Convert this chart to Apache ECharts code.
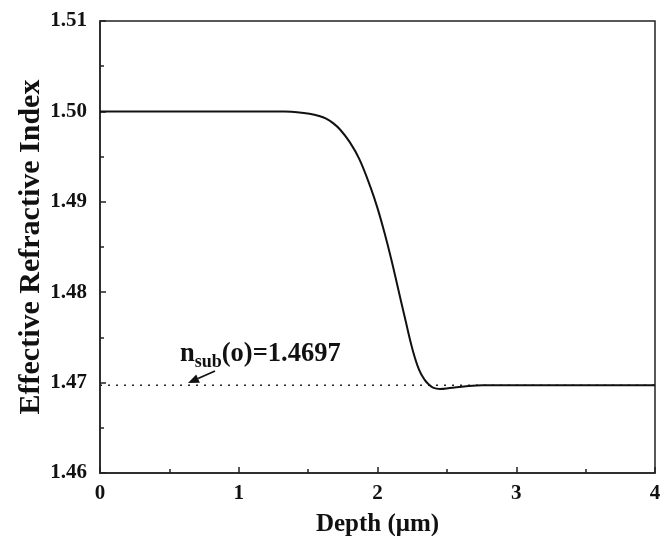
<!DOCTYPE html>
<html>
<head>
<meta charset="utf-8">
<script src="https://cdn.jsdelivr.net/npm/echarts@6/dist/echarts.min.js"></script>
<style>
html,body{margin:0;padding:0;background:#fff;}
#chart{width:662px;height:536px;}
</style>
</head>
<body>
<div id="chart"></div>
<script>
// ---- data ----
const depth = [0, 0.5, 1.0, 1.2, 1.32, 1.42, 1.51, 1.58, 1.63, 1.68, 1.73, 1.80, 1.87, 1.95, 2.00, 2.05, 2.10, 2.15, 2.20, 2.25, 2.30, 2.34, 2.37, 2.40, 2.45, 2.52, 2.64, 2.76, 2.9, 3.2, 3.6, 4.0];
const nEff = [1.5000, 1.5000, 1.5000, 1.5000, 1.49998, 1.49991, 1.49975, 1.4995, 1.4992, 1.4987, 1.4980, 1.4966, 1.4947, 1.4916, 1.4893, 1.4866, 1.4836, 1.4803, 1.4770, 1.4738, 1.4714, 1.4703, 1.4698, 1.46945, 1.4693, 1.4694, 1.4696, 1.4697, 1.4697, 1.4697, 1.4697, 1.4697];
const nSub = 1.4697;
const subDepth = [0, 4];
const xTicks = [0, 1, 2, 3, 4];
const yTicks = [1.46, 1.47, 1.48, 1.49, 1.50, 1.51];
const annotationMain = 'n';
const annotationSub = 'sub';
const annotationRest = '(o)=' + nSub.toFixed(4);

const FONT = '"Liberation Serif", "Times New Roman", serif';
const chart = echarts.init(document.getElementById('chart'));

const curve = depth.map((d, i) => [d, nEff[i]]);
const subLine = subDepth.map(d => [d, nSub]);

chart.setOption({
  animation: false,
  backgroundColor: '#fff',
  grid: { left: 100, right: 7, top: 21, bottom: 63, show: true, borderColor: '#222', borderWidth: 1.5, outerBoundsMode: 'none', containLabel: false },
  xAxis: {
    type: 'value', min: xTicks[0], max: xTicks[xTicks.length - 1], interval: 1,
    name: 'Depth (\u03bcm)', nameLocation: 'middle', nameGap: 39, nameMoveOverlap: false,
    nameTextStyle: { fontFamily: FONT, fontWeight: 'bold', fontSize: 25, color: '#111' },
    axisLine: { lineStyle: { color: '#222', width: 1.5 } },
    axisTick: { inside: true, length: 6, lineStyle: { color: '#222', width: 1.5 } },
    minorTick: { show: true, splitNumber: 2, length: 4, lineStyle: { color: '#222', width: 1.5 } },
    axisLabel: { fontFamily: FONT, fontWeight: 'bold', fontSize: 21, color: '#111', margin: 10, formatter: v => String(v) },
    splitLine: { show: false }
  },
  yAxis: {
    type: 'value', min: yTicks[0], max: yTicks[yTicks.length - 1], interval: 0.01,
    name: 'Effective Refractive Index', nameLocation: 'middle', nameGap: 54, nameRotate: 90, nameMoveOverlap: false,
    nameTextStyle: { fontFamily: FONT, fontWeight: 'bold', fontSize: 30, color: '#111' },
    axisLine: { lineStyle: { color: '#222', width: 1.5 } },
    axisTick: { inside: true, length: 6, lineStyle: { color: '#222', width: 1.5 } },
    minorTick: { show: true, splitNumber: 2, length: 4, lineStyle: { color: '#222', width: 1.5 } },
    axisLabel: { fontFamily: FONT, fontWeight: 'bold', fontSize: 21, color: '#111', margin: 13, formatter: v => v.toFixed(2) },
    splitLine: { show: false }
  },
  series: [
    {
      type: 'line', data: subLine, symbol: 'none', silent: true,
      lineStyle: { color: '#222', width: 1.5, type: [2, 6] }
    },
    {
      type: 'line', data: curve, symbol: 'none', smooth: 0.4, silent: true,
      lineStyle: { color: '#111', width: 2 }
    }
  ]
});

// annotation text with subscript
const ctx = document.createElement('canvas').getContext('2d');
function w(t, size) { ctx.font = 'bold ' + size + 'px ' + FONT; return ctx.measureText(t).width; }
const mainSize = 26.5, subSize = 18;
const tx = 180, ty = 354, sy = 362;
const wn = w(annotationMain, mainSize), ws = w(annotationSub, subSize);
const base = { fontFamily: FONT, fontWeight: 'bold', fill: '#111', verticalAlign: 'middle', align: 'left' };

// arrow
const tail = [215, 371], tip = [188, 383];
const ang = Math.atan2(tip[1] - tail[1], tip[0] - tail[0]);
const hl = 11, hw = 4.5;
const bx = tip[0] - hl * Math.cos(ang), by = tip[1] - hl * Math.sin(ang);
const px = -Math.sin(ang) * hw, py = Math.cos(ang) * hw;

chart.setOption({
  graphic: [
    { type: 'text', x: tx, y: ty, style: Object.assign({}, base, { text: annotationMain, fontSize: mainSize }) },
    { type: 'text', x: tx + wn, y: sy, style: Object.assign({}, base, { text: annotationSub, fontSize: subSize }) },
    { type: 'text', x: tx + wn + ws, y: ty, style: Object.assign({}, base, { text: annotationRest, fontSize: mainSize }) },
    { type: 'line', shape: { x1: tail[0], y1: tail[1], x2: bx, y2: by }, style: { stroke: '#111', lineWidth: 1.8 } },
    { type: 'polygon', shape: { points: [[tip[0], tip[1]], [bx + px, by + py], [bx - px, by - py]] }, style: { fill: '#111' } }
  ]
});
</script>
</body>
</html>
